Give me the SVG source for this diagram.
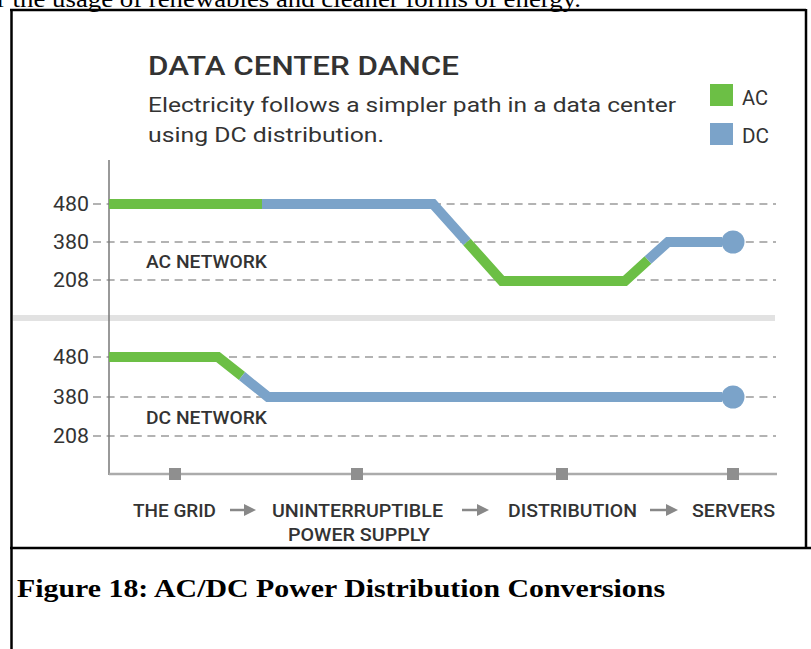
<svg xmlns="http://www.w3.org/2000/svg" width="811" height="649" viewBox="0 0 811 649">
  <defs>
    <style>
      .ui { font-family: Roboto, "Liberation Sans", Arial, sans-serif; fill: #333; }
      .lbl { font-size: 19px; font-weight: 500; }
      .num { font-size: 21px; font-weight: 400; }
      .grid { stroke: #b3b3b3; stroke-width: 2; stroke-dasharray: 8 5.6; fill: none; }
      .ac { stroke: #6cbf45; stroke-width: 10; fill: none; stroke-linejoin: miter; }
      .dc { stroke: #7ba3c9; stroke-width: 10; fill: none; stroke-linejoin: miter; }
      .frame { stroke: #000; stroke-width: 2.5; fill: none; }
      .tick { fill: #8f8f8f; }
      .flow { stroke: #888; stroke-width: 2.5; }
    </style>
    <marker id="flowHead" viewBox="0 0 10 10" refX="0" refY="5" markerWidth="14" markerHeight="12" markerUnits="userSpaceOnUse" orient="auto">
      <path d="M0,0 L10,5 L0,10 Z" fill="#888"/>
    </marker>
  </defs>

  <rect width="811" height="649" fill="#fff"/>

  <!-- running text from the page above -->
  <text x="-3" y="7" font-family="'Liberation Serif', 'Times New Roman', serif" font-size="23" fill="#000" textLength="584" lengthAdjust="spacingAndGlyphs">r the usage of renewables and cleaner forms of energy.</text>

  <!-- table frame -->
  <g id="frame">
    <line class="frame" x1="11.5" y1="9" x2="11.5" y2="649"/>
    <line class="frame" x1="10" y1="10" x2="806" y2="10"/>
    <line class="frame" x1="806" y1="9" x2="806" y2="548"/>
    <line class="frame" x1="10" y1="548" x2="811" y2="548"/>
  </g>

  <!-- heading -->
  <g id="heading">
    <text class="ui" x="148" y="75" font-size="25" font-weight="500" textLength="311" lengthAdjust="spacingAndGlyphs">DATA CENTER DANCE</text>
    <text class="ui" x="148" y="112" font-size="20" textLength="528" lengthAdjust="spacingAndGlyphs">Electricity follows a simpler path in a data center</text>
    <text class="ui" x="148" y="142" font-size="20" textLength="236" lengthAdjust="spacingAndGlyphs">using DC distribution.</text>
  </g>

  <!-- legend -->
  <g id="legend">
    <rect x="710" y="84" width="23" height="22" fill="#6cbf45"/>
    <text class="ui" x="742" y="105" font-size="21" textLength="26" lengthAdjust="spacingAndGlyphs">AC</text>
    <rect x="710" y="123" width="23" height="22" fill="#7ba3c9"/>
    <text class="ui" x="742" y="143" font-size="21" textLength="27" lengthAdjust="spacingAndGlyphs">DC</text>
  </g>

  <!-- voltage grid -->
  <g id="grid">
    <line class="grid" x1="93" y1="204" x2="776" y2="204"/>
    <line class="grid" x1="93" y1="242" x2="776" y2="242"/>
    <line class="grid" x1="93" y1="280" x2="776" y2="280"/>
    <line class="grid" x1="93" y1="357" x2="776" y2="357"/>
    <line class="grid" x1="93" y1="397" x2="776" y2="397"/>
    <line class="grid" x1="93" y1="436" x2="776" y2="436"/>
    <rect x="13" y="315" width="762" height="6" fill="#e2e2e2"/>
  </g>

  <g id="y-labels">
    <text class="ui num" x="53" y="211" textLength="36" lengthAdjust="spacingAndGlyphs">480</text>
    <text class="ui num" x="53" y="249" textLength="36" lengthAdjust="spacingAndGlyphs">380</text>
    <text class="ui num" x="53" y="287" textLength="36" lengthAdjust="spacingAndGlyphs">208</text>
    <text class="ui num" x="53" y="364" textLength="36" lengthAdjust="spacingAndGlyphs">480</text>
    <text class="ui num" x="53" y="404" textLength="36" lengthAdjust="spacingAndGlyphs">380</text>
    <text class="ui num" x="53" y="443" textLength="36" lengthAdjust="spacingAndGlyphs">208</text>
  </g>

  <!-- axes -->
  <g id="axes">
    <line x1="109" y1="160" x2="109" y2="475" stroke="#777" stroke-width="1.5"/>
    <line x1="109" y1="474" x2="777" y2="474" stroke="#ababab" stroke-width="2.5"/>
    <rect class="tick" x="169" y="468" width="12" height="12"/>
    <rect class="tick" x="351" y="468" width="12" height="12"/>
    <rect class="tick" x="556" y="468" width="12" height="12"/>
    <rect class="tick" x="727" y="468" width="12" height="12"/>
  </g>

  <!-- AC network path -->
  <g id="ac-network">
    <path class="ac" d="M109,204 H262"/>
    <path class="dc" d="M262,204 H433 L467,242"/>
    <path class="ac" d="M467,242 L502,281 H625 L648,260"/>
    <path class="dc" d="M648,260 L668,242 H722"/>
    <circle cx="733" cy="242" r="11.5" fill="#7ba3c9"/>
    <text class="ui lbl" x="146" y="268" font-weight="600" textLength="121" lengthAdjust="spacingAndGlyphs">AC NETWORK</text>
  </g>

  <!-- DC network path -->
  <g id="dc-network">
    <path class="ac" d="M109,357 H218 L242,376"/>
    <path class="dc" d="M242,376 L268,397 H722"/>
    <circle cx="733" cy="397" r="11.5" fill="#7ba3c9"/>
    <text class="ui lbl" x="146" y="424" font-weight="600" textLength="121" lengthAdjust="spacingAndGlyphs">DC NETWORK</text>
  </g>

  <!-- stages -->
  <g id="stage-grid">
    <text class="ui lbl" x="133" y="517" textLength="83" lengthAdjust="spacingAndGlyphs">THE GRID</text>
  </g>
  <g id="stage-ups">
    <text class="ui lbl" x="272" y="517" textLength="171" lengthAdjust="spacingAndGlyphs">UNINTERRUPTIBLE</text>
    <text class="ui lbl" x="288" y="541" textLength="142" lengthAdjust="spacingAndGlyphs">POWER SUPPLY</text>
  </g>
  <g id="stage-distribution">
    <text class="ui lbl" x="508" y="517" textLength="129" lengthAdjust="spacingAndGlyphs">DISTRIBUTION</text>
  </g>
  <g id="stage-servers">
    <text class="ui lbl" x="692" y="517" textLength="83" lengthAdjust="spacingAndGlyphs">SERVERS</text>
  </g>

  <g id="connectors">
    <line class="flow" x1="230" y1="510" x2="244" y2="510" marker-end="url(#flowHead)"/>
    <line class="flow" x1="462" y1="510" x2="477" y2="510" marker-end="url(#flowHead)"/>
    <line class="flow" x1="650" y1="510" x2="666" y2="510" marker-end="url(#flowHead)"/>
  </g>

  <!-- caption -->
  <text x="17" y="597" font-family="'Liberation Serif', 'Times New Roman', serif" font-size="25" font-weight="bold" fill="#000" textLength="648" lengthAdjust="spacingAndGlyphs">Figure 18: AC/DC Power Distribution Conversions</text>
</svg>
